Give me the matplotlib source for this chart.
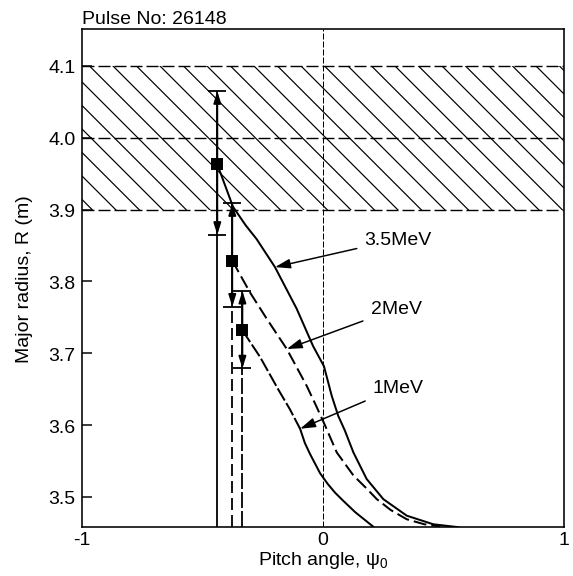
import matplotlib
matplotlib.use("Agg")
import matplotlib.pyplot as plt

DPI = 141


def P(px):
    """Convert a size in output pixels to points."""
    return px * 72.0 / DPI


plt.rcParams['font.family'] = ['Liberation Sans', 'DejaVu Sans']
plt.rcParams['mathtext.fontset'] = 'custom'
plt.rcParams['mathtext.rm'] = 'Liberation Sans'
plt.rcParams['mathtext.it'] = 'Liberation Sans'
plt.rcParams['mathtext.default'] = 'regular'
plt.rcParams['axes.unicode_minus'] = False
plt.rcParams['lines.scale_dashes'] = False
plt.rcParams['hatch.linewidth'] = P(1.2)

FS = P(19.5)

# Measured peak positions with error bars
energies = ['3.5MeV', '2MeV', '1MeV']
psi_peak = [-0.438, -0.376, -0.334]
R_peak = [3.963, 3.829, 3.732]
err_hi = [0.102, 0.080, 0.055]
err_lo = [0.098, 0.064, 0.053]

# Calculated R(psi0) curves for each energy
psi_35 = [-0.438, -0.373, -0.320, -0.275, -0.199, -0.109, -0.041, 0.004, 0.036,
          0.063, 0.090, 0.126, 0.181, 0.250, 0.347, 0.457, 0.56]
R_35 = [3.963, 3.904, 3.878, 3.859, 3.820, 3.762, 3.710, 3.682, 3.641,
        3.613, 3.593, 3.562, 3.525, 3.497, 3.474, 3.462, 3.458]

psi_2 = [-0.376, -0.303, -0.233, -0.150, -0.068, -0.030, 0.008, 0.057, 0.126,
         0.180, 0.223, 0.280, 0.347, 0.420, 0.485]
R_2 = [3.829, 3.785, 3.748, 3.706, 3.655, 3.628, 3.600, 3.562, 3.530,
       3.512, 3.497, 3.482, 3.469, 3.462, 3.459]

psi_1 = [-0.334, -0.261, -0.186, -0.137, -0.095, -0.075, -0.054, -0.012, 0.020,
         0.050, 0.083, 0.133, 0.207]
R_1 = [3.732, 3.695, 3.650, 3.622, 3.595, 3.575, 3.560, 3.533, 3.518,
       3.506, 3.495, 3.479, 3.459]

# Edge-excluded band
band_lo, band_mid, band_hi = 3.9, 4.0, 4.1

yticks = [3.5, 3.6, 3.7, 3.8, 3.9, 4.0, 4.1]
xticks = [-1, 0, 1]
xticklabels = ['-1', '0', '1']

fig = plt.figure(figsize=(573 / DPI, 577 / DPI), dpi=DPI)
ax = fig.add_axes([0.1426, 0.0849, 0.8422, 0.8631])
ax.set_xlim(-1, 1)
ax.set_ylim(3.4582, 4.1515)

# hatched band
ax.fill_between([-1, 1], band_lo, band_hi, facecolor='none', edgecolor='k',
                hatch='\\\\', linewidth=0)
for yv in (band_lo, band_mid, band_hi):
    ax.axhline(yv, color='k', lw=P(1.4), dashes=(P(12), P(4)))

ax.axvline(0, color='k', lw=P(1.0), dashes=(P(6), P(2)))

ybot = ax.get_ylim()[0]
LW = P(2.0)

# curves
ax.plot(psi_35, R_35, color='k', lw=LW)
ax.plot(psi_2, R_2, color='k', lw=LW, dashes=(P(13), P(5)))
k = 5
ax.plot(psi_1[:k], R_1[:k], color='k', lw=LW, dashes=(P(14), P(3)))
ax.plot(psi_1[k - 1:], R_1[k - 1:], color='k', lw=LW)

# vertical markers of each peak down to the axis
vstyles = [dict(), dict(dashes=(P(12), P(5))), dict(dashes=(P(16), P(3)))]
for x, y, lo, st in zip(psi_peak, R_peak, err_lo, vstyles):
    ax.plot([x, x], [ybot, y - lo], color='k', lw=P(1.8), **st)

# error bars with arrowheads
for x, y, hi, lo in zip(psi_peak, R_peak, err_hi, err_lo):
    ax.errorbar([x], [y], yerr=[[lo], [hi]], fmt='none', ecolor='k',
                elinewidth=P(1.8), capsize=P(9), capthick=P(1.8))
    for yend in (y + hi, y - lo):
        ax.annotate('', xy=(x, yend), xytext=(x, y),
                    arrowprops=dict(arrowstyle='-|>,head_length=0.7,head_width=0.22',
                                    color='k', lw=P(1.8), shrinkA=0, shrinkB=0,
                                    mutation_scale=P(14)))
ax.plot(psi_peak, R_peak, 's', color='k', ms=P(10), zorder=5)

# energy labels
label_xy = [(0.172, 3.859), (0.197, 3.762), (0.205, 3.653)]
targets = [(psi_35[4], R_35[4]), (psi_2[3], R_2[3]), (psi_1[4], R_1[4])]
for name, txy, tgt in zip(energies, label_xy, targets):
    ax.annotate(name, xy=tgt, xytext=txy, ha='left', va='center', fontsize=FS,
                arrowprops=dict(arrowstyle='-|>,head_length=0.8,head_width=0.25',
                                color='k', lw=P(1.5), shrinkA=2, shrinkB=0,
                                mutation_scale=P(16)))

ax.set_yticks(yticks)
ax.set_yticklabels([f'{v:.1f}' for v in yticks])
ax.set_xticks(xticks)
ax.set_xticklabels(xticklabels)
ax.tick_params(axis='y', direction='in', length=P(10), width=P(1.5),
               labelsize=FS, pad=P(6))
ax.tick_params(axis='x', direction='in', length=0, labelsize=FS, pad=P(4))
for s in ax.spines.values():
    s.set_linewidth(P(1.6))

ax.set_xlabel(r'Pitch angle, $\psi_0$', fontsize=FS)
ax.set_ylabel('Major radius, R (m)', fontsize=FS)
ax.xaxis.set_label_coords(0.5, -0.045)
ax.yaxis.set_label_coords(-0.100, 0.5)
ax.xaxis.label.set_va('top')

ax.text(0.0, 1.004, 'Pulse No: 26148', transform=ax.transAxes, ha='left',
        va='bottom', fontsize=FS)

fig.savefig('out.png', dpi=DPI)
